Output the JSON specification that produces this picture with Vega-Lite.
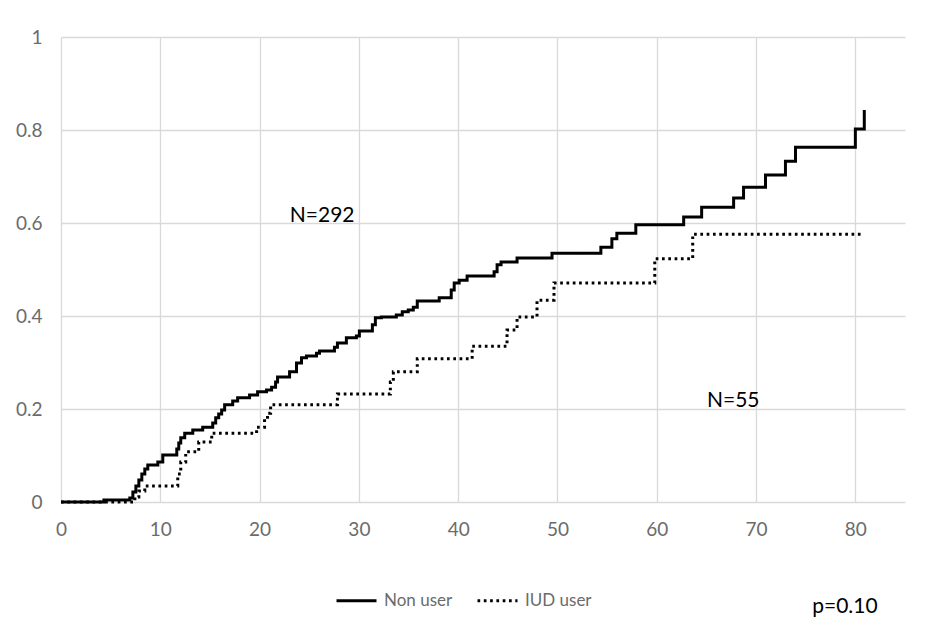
{
  "$schema": "https://vega.github.io/schema/vega-lite/v6.json",
  "width": 844,
  "height": 465,
  "autosize": {"type": "none"},
  "padding": {"left": 61, "top": 37, "right": 38, "bottom": 128},
  "background": "white",
  "config": {
    "view": {"stroke": null},
    "font": "Lato",
    "axis": {
      "grid": true,
      "gridColor": "#d9d9d9",
      "gridWidth": 1.3,
      "domain": false,
      "ticks": false,
      "labelColor": "#6b6b6b",
      "labelFont": "Lato",
      "labelFontSize": 19,
      "labelFlush": false,
      "title": null
    }
  },
  "datasets": {
    "curves": [
      {"t": 0, "p": 0, "group": "Non user"},
      {"t": 4.32, "p": 0.0043, "group": "Non user"},
      {"t": 6.93, "p": 0.0086, "group": "Non user"},
      {"t": 7.24, "p": 0.0215, "group": "Non user"},
      {"t": 7.54, "p": 0.0344, "group": "Non user"},
      {"t": 7.84, "p": 0.0473, "group": "Non user"},
      {"t": 8.14, "p": 0.0602, "group": "Non user"},
      {"t": 8.44, "p": 0.071, "group": "Non user"},
      {"t": 8.74, "p": 0.0796, "group": "Non user"},
      {"t": 9.75, "p": 0.086, "group": "Non user"},
      {"t": 10.25, "p": 0.101, "group": "Non user"},
      {"t": 11.66, "p": 0.114, "group": "Non user"},
      {"t": 11.86, "p": 0.127, "group": "Non user"},
      {"t": 12.06, "p": 0.138, "group": "Non user"},
      {"t": 12.46, "p": 0.148, "group": "Non user"},
      {"t": 13.27, "p": 0.155, "group": "Non user"},
      {"t": 14.27, "p": 0.161, "group": "Non user"},
      {"t": 15.28, "p": 0.17, "group": "Non user"},
      {"t": 15.58, "p": 0.181, "group": "Non user"},
      {"t": 15.88, "p": 0.189, "group": "Non user"},
      {"t": 16.18, "p": 0.198, "group": "Non user"},
      {"t": 16.48, "p": 0.209, "group": "Non user"},
      {"t": 17.29, "p": 0.217, "group": "Non user"},
      {"t": 17.79, "p": 0.224, "group": "Non user"},
      {"t": 18.99, "p": 0.23, "group": "Non user"},
      {"t": 19.8, "p": 0.237, "group": "Non user"},
      {"t": 20.7, "p": 0.241, "group": "Non user"},
      {"t": 21.21, "p": 0.247, "group": "Non user"},
      {"t": 21.61, "p": 0.258, "group": "Non user"},
      {"t": 21.81, "p": 0.269, "group": "Non user"},
      {"t": 23.02, "p": 0.28, "group": "Non user"},
      {"t": 23.72, "p": 0.299, "group": "Non user"},
      {"t": 24.22, "p": 0.31, "group": "Non user"},
      {"t": 24.72, "p": 0.314, "group": "Non user"},
      {"t": 25.73, "p": 0.32, "group": "Non user"},
      {"t": 26.03, "p": 0.325, "group": "Non user"},
      {"t": 27.54, "p": 0.333, "group": "Non user"},
      {"t": 27.84, "p": 0.342, "group": "Non user"},
      {"t": 28.74, "p": 0.353, "group": "Non user"},
      {"t": 29.75, "p": 0.357, "group": "Non user"},
      {"t": 30.05, "p": 0.368, "group": "Non user"},
      {"t": 31.36, "p": 0.381, "group": "Non user"},
      {"t": 31.66, "p": 0.396, "group": "Non user"},
      {"t": 32.26, "p": 0.398, "group": "Non user"},
      {"t": 33.77, "p": 0.402, "group": "Non user"},
      {"t": 34.37, "p": 0.409, "group": "Non user"},
      {"t": 34.97, "p": 0.413, "group": "Non user"},
      {"t": 35.48, "p": 0.419, "group": "Non user"},
      {"t": 35.88, "p": 0.432, "group": "Non user"},
      {"t": 38.09, "p": 0.439, "group": "Non user"},
      {"t": 39.3, "p": 0.456, "group": "Non user"},
      {"t": 39.6, "p": 0.471, "group": "Non user"},
      {"t": 40.1, "p": 0.477, "group": "Non user"},
      {"t": 40.9, "p": 0.486, "group": "Non user"},
      {"t": 43.62, "p": 0.495, "group": "Non user"},
      {"t": 43.92, "p": 0.51, "group": "Non user"},
      {"t": 44.32, "p": 0.516, "group": "Non user"},
      {"t": 45.93, "p": 0.525, "group": "Non user"},
      {"t": 49.45, "p": 0.535, "group": "Non user"},
      {"t": 54.37, "p": 0.548, "group": "Non user"},
      {"t": 55.48, "p": 0.566, "group": "Non user"},
      {"t": 55.98, "p": 0.578, "group": "Non user"},
      {"t": 57.89, "p": 0.596, "group": "Non user"},
      {"t": 62.71, "p": 0.613, "group": "Non user"},
      {"t": 64.52, "p": 0.634, "group": "Non user"},
      {"t": 67.74, "p": 0.654, "group": "Non user"},
      {"t": 68.74, "p": 0.677, "group": "Non user"},
      {"t": 70.95, "p": 0.703, "group": "Non user"},
      {"t": 72.96, "p": 0.733, "group": "Non user"},
      {"t": 73.97, "p": 0.763, "group": "Non user"},
      {"t": 80.0, "p": 0.802, "group": "Non user"},
      {"t": 80.9, "p": 0.843, "group": "Non user"},
      {"t": 0, "p": 0, "group": "IUD user"},
      {"t": 7.44, "p": 0.0108, "group": "IUD user"},
      {"t": 7.84, "p": 0.0237, "group": "IUD user"},
      {"t": 8.44, "p": 0.0344, "group": "IUD user"},
      {"t": 11.76, "p": 0.06, "group": "IUD user"},
      {"t": 12.06, "p": 0.086, "group": "IUD user"},
      {"t": 12.56, "p": 0.108, "group": "IUD user"},
      {"t": 13.87, "p": 0.129, "group": "IUD user"},
      {"t": 15.18, "p": 0.148, "group": "IUD user"},
      {"t": 19.7, "p": 0.161, "group": "IUD user"},
      {"t": 20.5, "p": 0.178, "group": "IUD user"},
      {"t": 20.8, "p": 0.191, "group": "IUD user"},
      {"t": 21.11, "p": 0.209, "group": "IUD user"},
      {"t": 27.84, "p": 0.232, "group": "IUD user"},
      {"t": 33.17, "p": 0.258, "group": "IUD user"},
      {"t": 33.47, "p": 0.28, "group": "IUD user"},
      {"t": 35.88, "p": 0.308, "group": "IUD user"},
      {"t": 41.41, "p": 0.335, "group": "IUD user"},
      {"t": 44.92, "p": 0.37, "group": "IUD user"},
      {"t": 45.93, "p": 0.398, "group": "IUD user"},
      {"t": 47.94, "p": 0.434, "group": "IUD user"},
      {"t": 49.65, "p": 0.471, "group": "IUD user"},
      {"t": 59.8, "p": 0.523, "group": "IUD user"},
      {"t": 63.62, "p": 0.576, "group": "IUD user"},
      {"t": 80.6, "p": 0.576, "group": "IUD user"}
    ],
    "labels": [
      {"t": 26.3, "p": 0.614, "label": "N=292", "size": "big"},
      {"t": 67.7, "p": 0.218, "label": "N=55", "size": "big"},
      {"t": 78.95, "p": -0.226, "label": "p=0.10", "size": "small"}
    ]
  },
  "layer": [
    {
      "data": {"name": "curves"},
      "mark": {"type": "line", "interpolate": "step-after", "strokeWidth": 3, "color": "black", "strokeCap": "butt"},
      "encoding": {
        "x": {"field": "t", "type": "quantitative", "scale": {"domain": [0, 85], "nice": false, "zero": false},
              "axis": {"values": [0, 10, 20, 30, 40, 50, 60, 70, 80], "labelPadding": 18}},
        "y": {"field": "p", "type": "quantitative", "scale": {"domain": [0, 1], "nice": false},
              "axis": {"values": [0, 0.2, 0.4, 0.6, 0.8, 1], "format": "~g", "labelPadding": 19}},
        "strokeDash": {
          "field": "group", "type": "nominal",
          "scale": {"domain": ["Non user", "IUD user"], "range": [[1, 0], [2.7, 3.6]]},
          "legend": {
            "orient": "none", "legendX": 274, "legendY": 542, "direction": "horizontal",
            "title": null, "symbolType": "stroke", "symbolSize": 1600, "symbolStrokeWidth": 3,
            "symbolStrokeColor": "black", "labelColor": "#6b6b6b", "labelFontSize": 17,
            "labelFont": "Lato", "columnPadding": 18, "labelOffset": 6, "padding": 0
          }
        }
      }
    },
    {
      "data": {"name": "labels"},
      "mark": {"type": "text", "clip": false, "color": "black", "font": "Lato", "baseline": "middle", "align": "center"},
      "encoding": {
        "x": {"field": "t", "type": "quantitative"},
        "y": {"field": "p", "type": "quantitative"},
        "text": {"field": "label"},
        "size": {"field": "size", "type": "nominal", "scale": {"domain": ["big", "small"], "range": [21, 21]}, "legend": null}
      }
    }
  ]
}
